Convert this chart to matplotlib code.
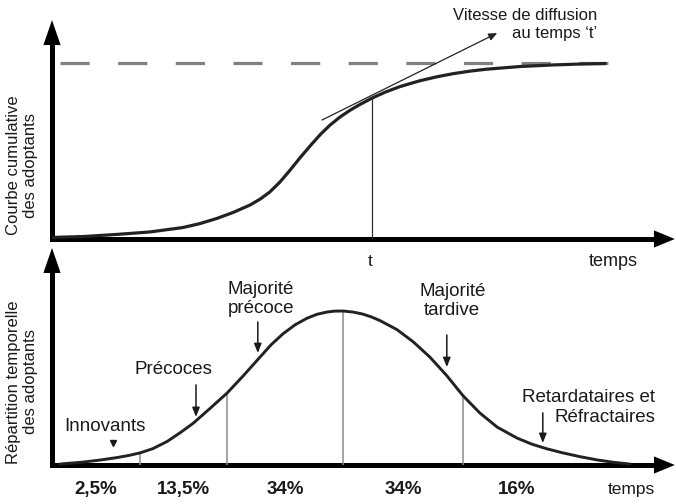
import matplotlib
matplotlib.use("Agg")
import matplotlib.pyplot as plt
from matplotlib.patches import ArrowStyle

plt.rcParams['font.family'] = ['Liberation Sans', 'DejaVu Sans']
plt.rcParams['lines.scale_dashes'] = False

# --- data (time in arbitrary units 0..104) ---
# cumulative adopters, % of saturation
cum_time = [0.2, 5.2, 10.8, 16.3, 21.8, 24.7, 27.5, 30.2, 33.0, 34.7, 36.3, 38.0,
            39.7, 41.3, 43.0, 44.7, 46.3, 48.0, 49.7, 51.3, 53.3, 55.5, 58.0, 61.3,
            64.2, 66.8, 69.7, 72.5, 78.0, 83.5, 88.0, 92.2]
cum_pct = [0.9, 1.4, 2.6, 4.0, 6.5, 8.8, 11.7, 15.1, 19.3, 22.7, 26.7, 32.4,
           39.2, 46.0, 52.8, 59.3, 64.6, 69.3, 73.2, 76.4, 80.0, 83.4, 86.6, 89.9,
           92.2, 93.9, 95.4, 96.5, 98.0, 98.9, 99.4, 99.7]
saturation = 100
t_mark = 53.3          # the instant 't'
tangent_from = (45.0, 67.6)
tangent_to = (74.2, 117.0)

# adoption over time (relative, peak = 100)
dens_time = [1.3, 5.2, 8.0, 10.8, 12.8, 14.7, 16.8, 19.2, 21.3, 23.5, 26.3, 29.2,
             31.8, 34.7, 36.5, 38.5, 40.5, 42.5, 44.2, 45.8, 47.0, 48.5, 50.2, 51.8,
             53.2, 54.7, 57.5, 60.2, 63.0, 65.8, 68.5, 71.3, 74.2, 77.5, 80.0, 82.5,
             85.0, 88.0, 91.0, 93.5, 96.3]
dens_val = [0.6, 1.9, 3.2, 4.8, 6.2, 7.9, 10.6, 15.3, 20.8, 27.0, 36.6, 46.8,
            57.6, 70.2, 78.0, 85.2, 91.0, 95.3, 97.9, 99.3, 99.9, 100, 99.3, 98.0,
            96.2, 93.7, 87.9, 80.0, 70.0, 58.0, 45.0, 33.8, 24.6, 17.5, 13.5, 10.5,
            8.0, 5.4, 3.2, 1.8, 0.6]
group_edges = [14.7, 29.2, 48.5, 68.5]
shares = ["2,5%", "13,5%", "34%", "34%", "16%"]
categories = ["Innovants", "Précoces", "Majorité\nprécoce", "Majorité\ntardive",
              "Retardataires et\nRéfractaires"]

W, H = 676, 504
INK = '#1a1a1a'
fig = plt.figure(figsize=(W / 100, H / 100), dpi=100)
ax1 = fig.add_axes([52 / W, (H - 239) / H, 624 / W, 176 / H])
ax2 = fig.add_axes([52 / W, (H - 465) / H, 624 / W, 154 / H])
for ax in (ax1, ax2):
    ax.set_xlim(0, 104)
    ax.set_ylim(0, 100)
    ax.axis('off')


def draw_frame(ax, x_end, y_end, y_head):
    # thick axis lines with filled arrow heads
    ax.plot([0, x_end - 2], [0, 0], color='black', lw=3.6,
            solid_capstyle='projecting', clip_on=False)
    ax.plot([0, 0], [0, y_end - y_head], color='black', lw=3.6,
            solid_capstyle='projecting', clip_on=False)
    head_x = ArrowStyle('-|>', head_length=15, head_width=6.2)
    head_y = ArrowStyle('-|>', head_length=18, head_width=6.2)
    ax.annotate('', xy=(x_end, 0), xytext=(x_end - 8, 0),
                arrowprops=dict(arrowstyle=head_x, mutation_scale=1, lw=0,
                                color='black', shrinkA=0, shrinkB=0),
                annotation_clip=False)
    ax.annotate('', xy=(0, y_end), xytext=(0, y_end - 30),
                arrowprops=dict(arrowstyle=head_y, mutation_scale=1, lw=0,
                                color='black', shrinkA=0, shrinkB=0),
                annotation_clip=False)


def height_at(times, values, t):
    return values[times.index(t)]


# ---------------- top panel: cumulative curve ----------------
draw_frame(ax1, 103.8, 124.4, 7)
ax1.plot([1.3, 92.7], [saturation, saturation], color='#808080', lw=2.3,
         dashes=(21, 20.5), clip_on=False)
ax1.plot(cum_time, cum_pct, color='#222222', lw=2.3, clip_on=False,
         solid_capstyle='round', solid_joinstyle='round')
ax1.vlines(t_mark, 0, height_at(cum_time, cum_pct, t_mark), color='#333333', lw=0.9)
ax1.annotate('', xy=tangent_to, xytext=tangent_from,
             arrowprops=dict(arrowstyle='-|>,head_length=0.5,head_width=0.22',
                             mutation_scale=10, lw=0.9, color='#222222',
                             shrinkA=0, shrinkB=0), annotation_clip=False)
ax1.text(90.8, 121.9, "Vitesse de diffusion\nau temps ‘t’", ha='right', va='center',
         fontsize=12, color=INK, linespacing=1.25)
ax1.text(t_mark - 0.3, -13, "t", ha='center', va='center', fontsize=12.5, color=INK)
ax1.text(93.5, -13, "temps", ha='center', va='center', fontsize=13, color=INK)
fig.text(22 / W, 1 - 165 / H, "Courbe cumulative\ndes adoptants", rotation=90,
         ha='center', va='center', fontsize=12, color=INK, linespacing=1.15)

# ---------------- bottom panel: distribution ----------------
draw_frame(ax2, 103.8, 140.9, 8)
ax2.vlines(group_edges, 0, [height_at(dens_time, dens_val, t) for t in group_edges],
           color='#8c8c8c', lw=1.1)
ax2.plot(dens_time, dens_val, color='#222222', lw=2.1, clip_on=False,
         solid_capstyle='round', solid_joinstyle='round')

outer = [0] + group_edges + [86.5]
for i, s in enumerate(shares):
    ax2.text((outer[i] + outer[i + 1]) / 2, -16.2, s, ha='center', va='center',
             fontsize=13.5, fontweight='bold', color=INK)
ax2.text(96.5, -16.2, "temps", ha='center', va='center', fontsize=12.5, color=INK)

arrow_kw = dict(arrowstyle='-|>,head_length=0.5,head_width=0.2', mutation_scale=11,
                lw=1.1, color='#1a1a1a', shrinkA=0, shrinkB=0)
# Innovants
ax2.text(8.8, 24.7, categories[0], ha='center', va='center', fontsize=13.5, color=INK)
ax2.plot([10.2], [14.5], marker='v', ms=5, color='#1a1a1a', clip_on=False)
# Précoces
ax2.text(20.2, 61.7, categories[1], ha='center', va='center', fontsize=13.5, color=INK)
ax2.annotate('', xy=(24.0, 31.2), xytext=(24.0, 52.0), arrowprops=arrow_kw)
# Majorité précoce
ax2.text(34.8, 107.8, categories[2], ha='center', va='center', fontsize=13.5,
         color=INK, linespacing=1.2)
ax2.annotate('', xy=(34.3, 72.7), xytext=(34.3, 92.9), arrowprops=arrow_kw,
             annotation_clip=False)
# Majorité tardive
ax2.text(66.7, 106.5, categories[3], ha='center', va='center', fontsize=13.5,
         color=INK, linespacing=1.2)
ax2.annotate('', xy=(65.8, 63.6), xytext=(65.8, 84.4), arrowprops=arrow_kw)
# Retardataires et Réfractaires
ax2.text(100.5, 37.3, categories[4], ha='right', va='center', fontsize=13.5,
         color=INK, linespacing=1.2)
ax2.annotate('', xy=(81.8, 14.3), xytext=(81.8, 33.8), arrowprops=arrow_kw)

fig.text(22 / W, 1 - 382 / H, "Répartition temporelle\ndes adoptants", rotation=90,
         ha='center', va='center', fontsize=12, color=INK, linespacing=1.15)

fig.savefig("out.png", dpi=100, facecolor='white')
